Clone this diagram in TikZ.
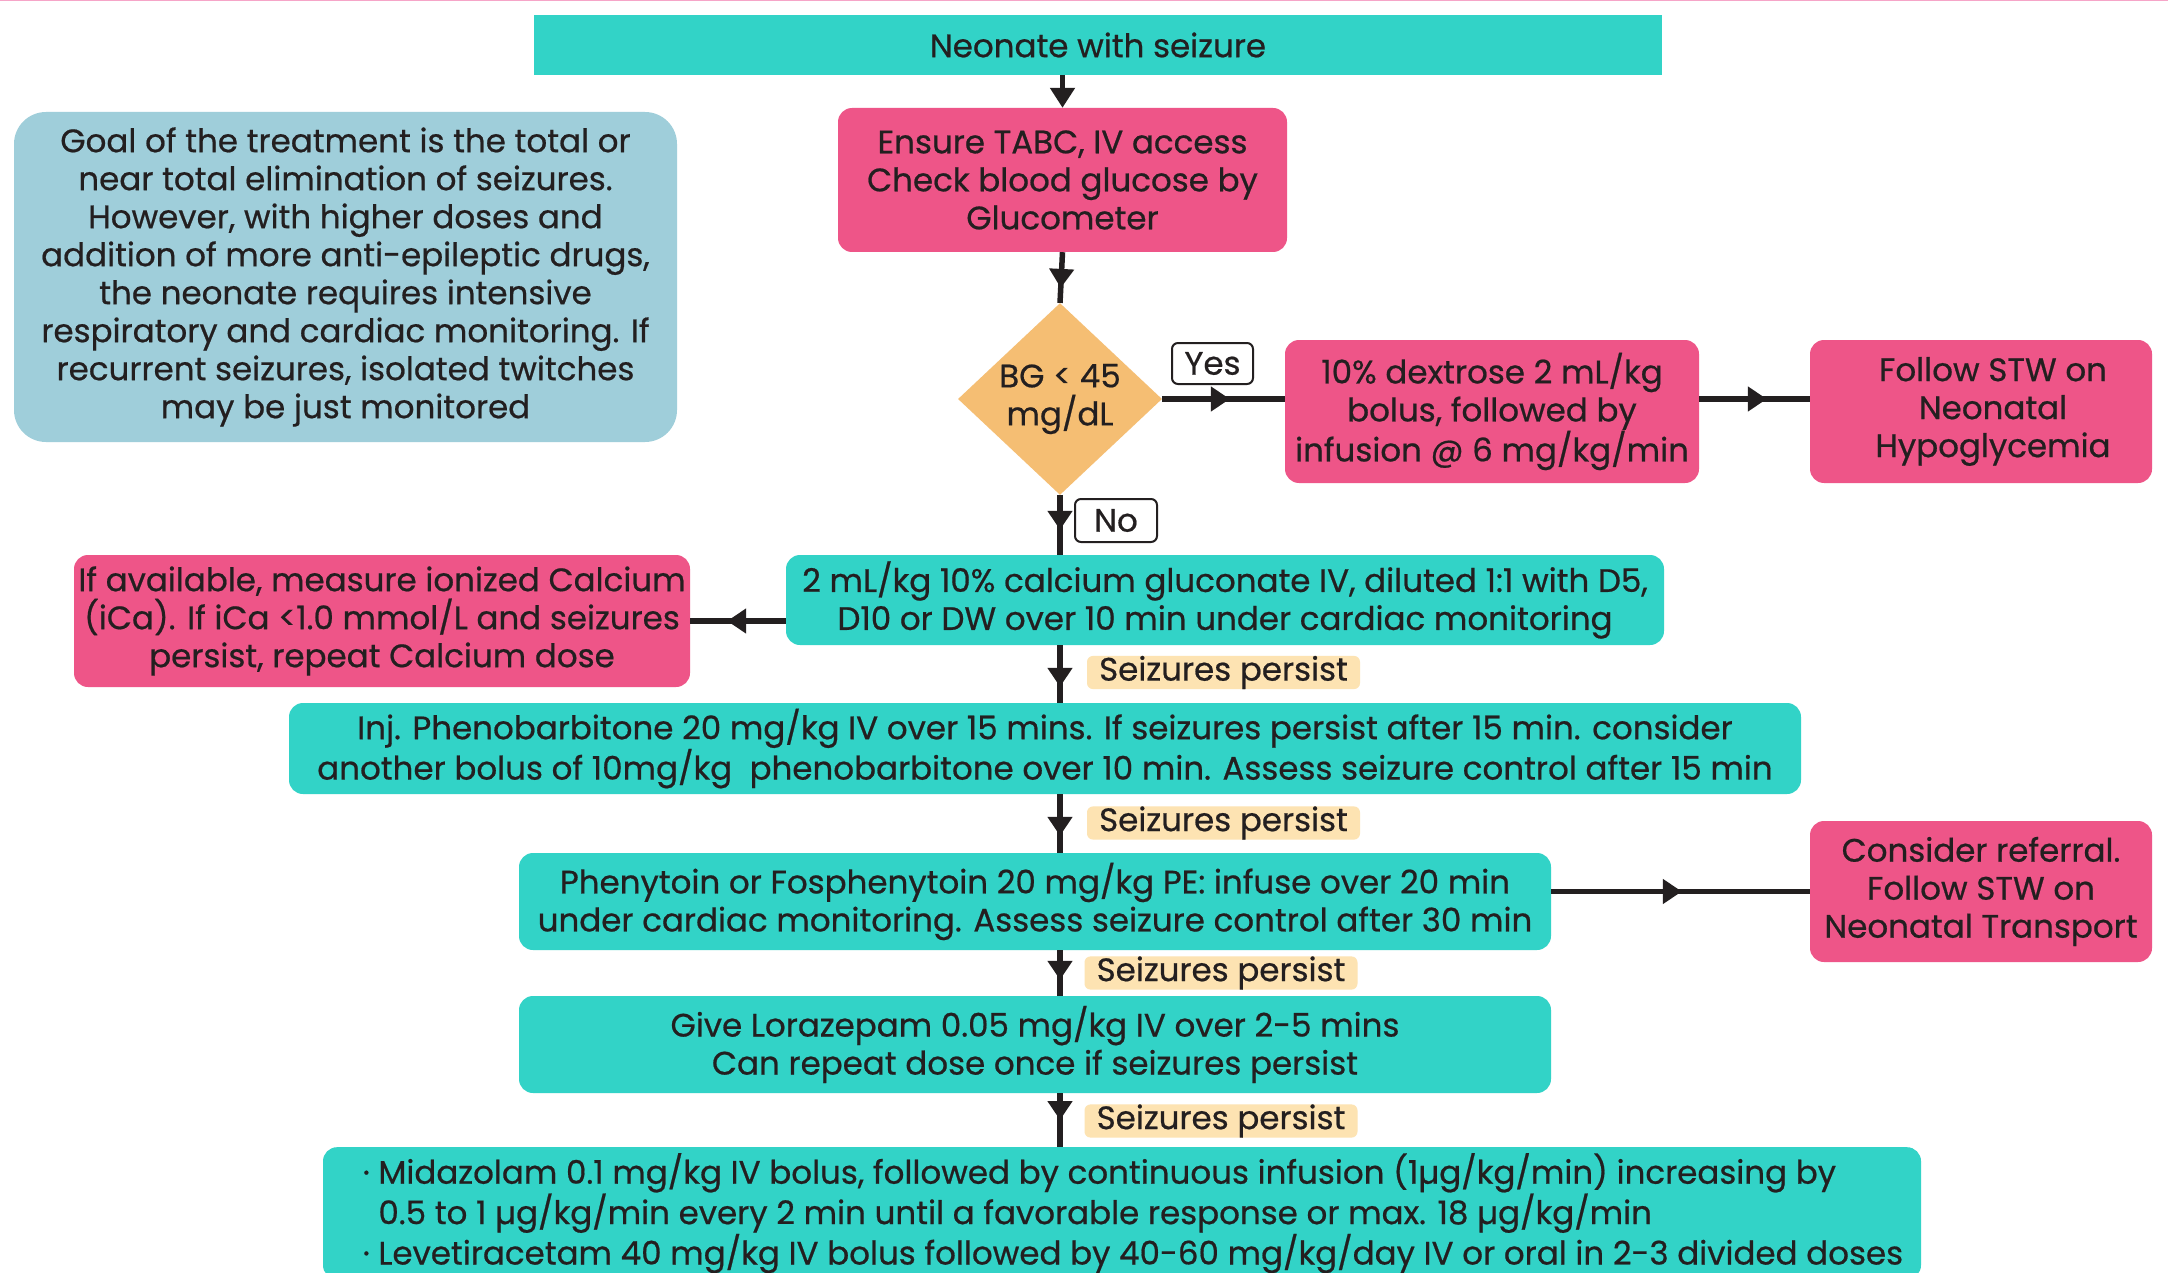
\documentclass[tikz,border=0pt]{standalone}
\usepackage{fontspec}
\setmainfont{Poppins}[FakeBold=0.6]
\usetikzlibrary{shapes.geometric,arrows.meta,decorations.markings}
\definecolor{tealbox}{HTML}{32D3C7}
\definecolor{pinkbox}{HTML}{EE5588}
\definecolor{orangebox}{HTML}{F5BE73}
\definecolor{bluebox}{HTML}{9FCEDA}
\definecolor{peach}{HTML}{FDE3B2}
\definecolor{ink}{HTML}{231F20}
\definecolor{topline}{HTML}{F6A5C8}
\tikzset{
  txt/.style={font=\fontsize{32.5}{38}\selectfont, text=ink, align=center, inner sep=0pt},
  tealnode/.style={txt, fill=tealbox, rounded corners=14pt},
  pinknode/.style={txt, fill=pinkbox, rounded corners=14pt},
  persist/.style={txt, fill=peach, rounded corners=6pt, minimum width=273pt, minimum height=33pt},
  yesno/.style={txt, fill=white, draw=ink, line width=2pt, rounded corners=6pt},
  conn/.style={draw=ink, line width=5.5pt},
  tipend/.style={-{Triangle[length=20pt,width=24pt]}},
  midarr/.style={postaction={decorate}, decoration={markings,
    mark=at position #1 with {\arrow{Triangle[length=19pt,width=24pt]}}}}
}
\begin{document}
\begin{tikzpicture}[x=1pt,y=-1pt]
\useasboundingbox (0,0) rectangle (2168,1273);
\clip (0,0) rectangle (2168,1273);
\fill[white] (0,0) rectangle (2168,1273);
\draw[topline, line width=2pt] (0,0) -- (2168,0);

% nodes
\node[txt, fill=tealbox, minimum width=1128pt, minimum height=60pt] (top) at (1098,45) {Neonate with seizure};
\node[pinknode, minimum width=449pt, minimum height=144pt] (ensure) at (1062.5,180) {Ensure TABC, IV access\\Check blood glucose by\\Glucometer};
\node[txt, fill=bluebox, rounded corners=32pt, minimum width=663pt, minimum height=330pt] (goal) at (345.5,277) {Goal of the treatment is the total or\\near total elimination of seizures.\\However, with higher doses and\\addition of more anti-epileptic drugs,\\the neonate requires intensive\\respiratory and cardiac monitoring. If\\recurrent seizures, isolated twitches\\may be just monitored};
\node[txt, diamond, fill=orangebox, minimum width=204pt, minimum height=189pt] (d) at (1060,399) {BG < 45\\mg/dL};
\node[pinknode, minimum width=414pt, minimum height=143pt] (dex) at (1492,411.5) {10\% dextrose 2 mL/kg\\bolus, followed by\\infusion @ 6 mg/kg/min};
\node[pinknode, minimum width=342pt, minimum height=143pt] (stw) at (1981,411.5) {\hspace*{24pt}Follow STW on\\\hspace*{24pt}Neonatal\\\hspace*{24pt}Hypoglycemia};
\node[yesno, minimum width=81pt, minimum height=41pt] (yes) at (1212.5,363.5) {Yes};
\node[yesno, minimum width=82pt, minimum height=43pt] (no) at (1116,520.5) {No};
\node[tealnode, minimum width=878pt, minimum height=90pt] (calc) at (1225,600) {2 mL/kg 10\% calcium gluconate IV, diluted 1:1 with D5,\\D10 or DW over 10 min under cardiac monitoring};
\node[pinknode, minimum width=616pt, minimum height=132pt] (ica) at (382,621) {If available, measure ionized Calcium\\(iCa). If iCa <1.0 mmol/L and seizures\\persist, repeat Calcium dose};
\node[persist] (p1) at (1223.5,672.5) {Seizures persist};
\node[tealnode, minimum width=1512pt, minimum height=91pt] (pheno) at (1045,748.5) {Inj. Phenobarbitone 20 mg/kg IV over 15 mins. If seizures persist after 15 min. consider\\another bolus of 10mg/kg \ phenobarbitone over 10 min. Assess seizure control after 15 min};
\node[persist] (p2) at (1223.5,823) {Seizures persist};
\node[tealnode, minimum width=1032pt, minimum height=97pt] (phen) at (1035,901.5) {Phenytoin or Fosphenytoin 20 mg/kg PE: infuse over 20 min\\under cardiac monitoring. Assess seizure control after 30 min};
\node[pinknode, minimum width=342pt, minimum height=141pt] (ref) at (1981,891.5) {Consider referral.\\Follow STW on\\Neonatal Transport};
\node[persist] (p3) at (1221,973) {Seizures persist};
\node[tealnode, minimum width=1032pt, minimum height=97pt] (lor) at (1035,1044.5) {Give Lorazepam 0.05 mg/kg IV over 2-5 mins\\Can repeat dose once if seizures persist};
\node[persist] (p4) at (1221,1121) {Seizures persist};
\node[tealnode, align=left, minimum width=1598pt, minimum height=132pt, anchor=north] (mid) at (1122,1147) {\hspace*{22pt}· Midazolam 0.1 mg/kg IV bolus, followed by continuous infusion (1µg/kg/min) increasing by\\\hspace*{22pt}\phantom{· }0.5 to 1 µg/kg/min every 2 min until a favorable response or max. 18 µg/kg/min\\\hspace*{22pt}· Levetiracetam 40 mg/kg IV bolus followed by 40-60 mg/kg/day IV or oral in 2-3 divided doses};

% connectors
\draw[conn, tipend] (top.south -| ensure.north) -- (ensure.north);
\draw[conn, midarr=-15pt] (ensure.south) -- (d.north);
\draw[conn, midarr=-55pt] (d.east) -- (d.east -| dex.west);
\draw[conn, midarr=-43pt] (d.east -| dex.east) -- (d.east -| stw.west);
\draw[conn, midarr=-25pt] (d.south) -- (calc.north -| d.south);
\draw[conn, midarr=-37pt] (ica.east -| calc.west) -- (ica.east);
\draw[conn, midarr=-16pt] (calc.south -| d.south) -- (pheno.north -| d.south);
\draw[conn, midarr=-17pt] (pheno.south -| d.south) -- (phen.north -| d.south);
\draw[conn, midarr=-128pt] (ref.west -| phen.east) -- (ref.west);
\draw[conn, midarr=-16pt] (phen.south -| d.south) -- (lor.north -| d.south);
\draw[conn, midarr=-27pt] (lor.south -| d.south) -- (mid.north -| d.south);
\end{tikzpicture}
\end{document}
